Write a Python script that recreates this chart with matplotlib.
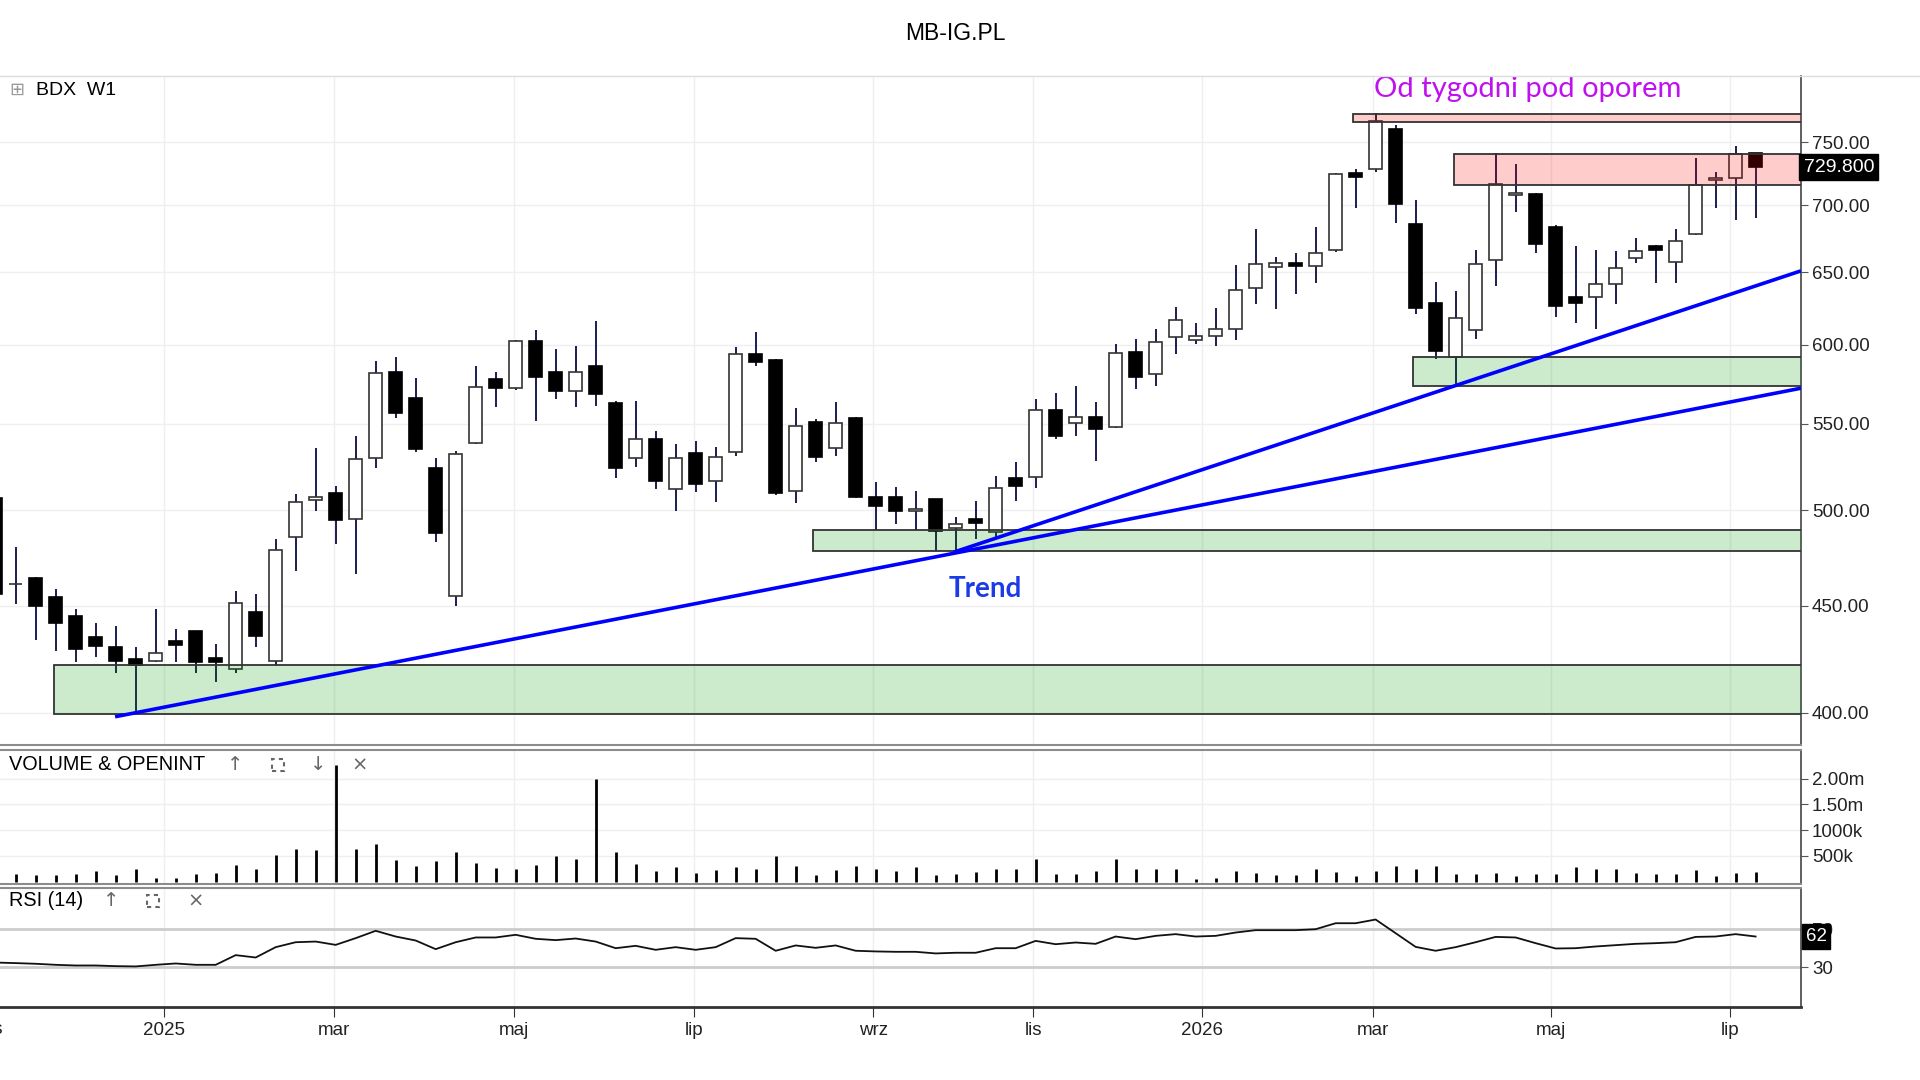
import numpy as np
import matplotlib.pyplot as plt
import matplotlib.transforms as mtransforms
from matplotlib.patches import Rectangle
from matplotlib.lines import Line2D
from matplotlib.ticker import NullLocator

plt.rcParams['font.family'] = ['Liberation Sans', 'DejaVu Sans']

# weekly candles, index 0 = first full candle on the left
weeks = np.arange(-1, 88)

opens = [507.0, 461.0, 464.0, 454.5, 445.1, 434.8, 430.2, 424.4, 423.5, 432.8,
         437.8, 424.9, 419.9, 447.1, 423.6, 485.3, 505.8, 509.8, 495.0, 529.8,
         582.4, 566.0, 524.0, 454.9, 538.3, 577.6, 571.9, 602.7, 582.4, 570.4,
         586.3, 562.9, 529.8, 540.8, 511.7, 532.7, 516.4, 533.0, 593.9, 590.0,
         510.7, 551.2, 535.3, 553.7, 507.5, 507.5, 499.4, 506.2, 490.2, 495.2,
         488.3, 518.3, 518.9, 558.4, 550.3, 554.3, 548.2, 595.5, 581.0, 605.4,
         603.2, 606.1, 610.3, 639.0, 653.9, 656.8, 654.6, 666.5, 724.8, 728.2,
         761.5, 685.4, 628.5, 592.2, 609.9, 659.2, 707.4, 708.4, 682.9, 632.6,
         632.6, 641.6, 660.4, 669.2, 657.5, 677.7, 719.3, 721.3, 741.4]
highs = [509.0, 480.0, 464.5, 458.4, 448.4, 441.4, 440.3, 429.9, 448.3, 438.5,
         437.8, 431.3, 457.6, 455.8, 484.3, 508.9, 535.3, 513.7, 542.8, 589.6,
         592.2, 578.2, 529.5, 533.9, 586.3, 582.0, 603.5, 610.0, 597.0, 599.4,
         616.0, 564.0, 564.1, 545.8, 537.8, 539.8, 535.9, 598.3, 608.7, 591.0,
         559.5, 552.9, 563.5, 554.3, 515.6, 512.8, 510.9, 506.5, 496.1, 505.3,
         519.4, 527.1, 565.0, 568.8, 573.6, 563.5, 600.3, 603.6, 610.9, 625.7,
         614.8, 624.6, 655.1, 681.6, 661.1, 663.6, 683.3, 725.0, 728.0, 774.8,
         764.9, 704.2, 643.2, 636.8, 666.5, 741.4, 732.6, 709.0, 685.0, 669.2,
         666.5, 665.4, 674.7, 669.5, 681.4, 737.3, 726.2, 746.8, 741.5]
lows = [454.0, 451.0, 433.4, 428.2, 422.8, 425.5, 417.7, 399.3, 423.0, 422.8,
        417.7, 413.6, 417.7, 429.9, 421.6, 467.6, 499.6, 481.6, 465.9, 524.0,
        553.3, 533.0, 483.0, 449.9, 538.0, 560.4, 571.0, 551.9, 565.0, 560.4,
        561.0, 518.3, 524.6, 511.7, 499.4, 510.0, 504.4, 530.8, 586.3, 508.5,
        504.2, 527.5, 530.8, 507.0, 489.2, 492.3, 489.2, 478.2, 478.2, 484.3,
        485.6, 505.3, 512.2, 540.6, 542.6, 528.1, 547.5, 571.3, 573.6, 593.7,
        600.5, 599.4, 603.2, 627.4, 623.9, 634.3, 642.5, 665.0, 697.7, 726.2,
        686.3, 620.7, 590.5, 574.0, 603.6, 640.4, 694.6, 664.0, 618.9, 614.8,
        610.3, 627.6, 656.8, 642.5, 642.5, 677.0, 697.7, 688.4, 690.4]
closes = [456.0, 461.0, 450.0, 441.4, 429.2, 430.5, 423.5, 421.6, 427.3, 431.1,
          422.8, 422.8, 451.4, 435.3, 478.4, 504.8, 507.5, 494.7, 528.9, 581.8,
          556.4, 534.7, 487.4, 532.0, 572.9, 571.9, 602.7, 579.3, 570.4, 582.4,
          568.1, 523.6, 540.8, 516.4, 529.8, 514.5, 530.4, 593.9, 588.5, 509.4,
          548.8, 530.4, 550.3, 507.5, 502.5, 499.4, 500.7, 488.9, 492.5, 492.8,
          512.6, 513.7, 558.4, 542.6, 554.3, 546.7, 594.8, 579.3, 602.1, 616.6,
          606.1, 610.5, 637.3, 655.8, 656.8, 654.6, 664.0, 724.2, 722.1, 767.7,
          701.1, 624.6, 596.1, 618.2, 655.8, 716.2, 709.4, 670.2, 626.2, 628.5,
          641.6, 653.2, 665.4, 666.5, 672.9, 715.4, 721.3, 740.8, 729.8]

# volume in thousands of shares
volume = [150, 149, 126, 126, 146, 204, 126, 253, 68, 68,
          146, 175, 321, 253, 516, 632, 613, 2270, 632, 730,
          418, 302, 399, 574, 370, 272, 253, 321, 496, 448,
          1995, 574, 341, 204, 282, 175, 234, 282, 253, 496,
          302, 126, 234, 302, 253, 204, 282, 126, 146, 195,
          243, 253, 438, 146, 146, 214, 438, 243, 243, 243,
          49, 68, 214, 175, 126, 126, 243, 195, 107, 214,
          302, 253, 302, 146, 146, 165, 107, 146, 146, 282,
          253, 253, 175, 146, 146, 224, 107, 165, 195]

rsi = [35.0, 34.4, 33.7, 32.6, 31.9, 31.9, 31.2, 30.9, 32.6, 34.0,
       32.6, 32.6, 42.8, 40.3, 51.2, 56.4, 57.1, 53.6, 60.7, 68.4,
       62.4, 58.2, 49.1, 56.4, 61.4, 61.4, 64.2, 60.0, 58.6, 60.3,
       57.1, 50.1, 52.6, 48.4, 51.2, 48.4, 51.2, 60.7, 60.0, 47.4,
       53.0, 50.5, 53.0, 47.4, 46.7, 46.3, 46.3, 44.6, 45.3, 45.3,
       50.1, 50.1, 57.8, 54.3, 56.1, 54.7, 62.4, 59.6, 63.1, 64.9,
       62.4, 63.1, 66.6, 69.1, 69.1, 69.1, 70.1, 76.4, 76.4, 80.3,
       65.9, 51.5, 47.4, 51.2, 56.4, 62.0, 61.4, 55.4, 49.8, 50.1,
       51.9, 53.3, 54.7, 55.4, 56.4, 62.0, 62.4, 64.9, 62.4]

# support / resistance zones: (start week, low, high)
red_zones = [(66.87, 767.1, 774.2), (71.9, 715.6, 740.2)]
green_zones = [(69.87, 573.6, 591.8), (39.87, 478.0, 489.2), (1.94, 399.3, 421.6)]

# trend lines: (week, price) endpoints
trend_lines = [((4.97, 398.2), (89.27, 572.0)),
               ((46.9, 477.4), (89.27, 651.0))]

month_pos = [7.42, 15.93, 24.93, 33.93, 42.87, 50.89, 59.34, 67.85, 76.79, 85.73]
month_lbl = ['2025', 'mar', 'maj', 'lip', 'wrz', 'lis', '2026', 'mar', 'maj', 'lip']

price_ticks = [400, 450, 500, 550, 600, 650, 700, 750]
vol_ticks = [500, 1000, 1500, 2000]
vol_lbl = ['500k', '1000k', '1.50m', '2.00m']

opens = np.array(opens)
highs = np.array(highs)
lows = np.array(lows)
closes = np.array(closes)
volume = np.array(volume) * 1000

W, H = 1920, 1080
XMIN, XMAX = -0.785, 89.27


def box(x0, y0, x1, y1):
    return [x0 / W, 1 - y1 / H, (x1 - x0) / W, (y1 - y0) / H]


fig = plt.figure(figsize=(19.2, 10.8), dpi=100, facecolor='white')
ax = fig.add_axes(box(0, 76, 1801, 744.5))
axv = fig.add_axes(box(0, 749.5, 1801, 884))
axr = fig.add_axes(box(0, 888, 1801, 1006.5))

for a in (ax, axv, axr):
    a.set_xlim(XMIN, XMAX)
    a.set_xticks(month_pos)
    a.grid(True, color='#efefef', lw=1)
    a.set_axisbelow(True)
    a.spines['left'].set_visible(False)
    a.spines['right'].set_color('#444444')
    a.spines['right'].set_linewidth(1.2)
    a.spines['top'].set_color('#8c8c8c')
    a.spines['bottom'].set_color('#8c8c8c')
    a.spines['top'].set_linewidth(1.5)
    a.spines['bottom'].set_linewidth(1.5)
    a.yaxis.tick_right()
    a.tick_params(axis='y', direction='out', length=5, color='#555555',
                  labelsize=13.5, pad=3, labelcolor='#222222')
ax.spines['top'].set_visible(False)
for a in (ax, axv):
    a.tick_params(axis='x', length=0, labelbottom=False)

# main candles
ax.set_yscale('log')
ax.set_ylim(386.2, 807.0)
ax.yaxis.set_minor_locator(NullLocator())
ax.set_yticks(price_ticks)
ax.set_yticklabels(['%.2f' % p for p in price_ticks])

up = closes >= opens
body_lo = np.minimum(opens, closes)
body_h = np.abs(closes - opens)
ax.vlines(weeks, lows, highs, color='#1c1c50', lw=1.4, zorder=2)
ax.bar(weeks[up], body_h[up], bottom=body_lo[up], width=0.64, color='white',
       edgecolor='#333333', linewidth=1.2, zorder=3)
ax.bar(weeks[~up], body_h[~up], bottom=body_lo[~up], width=0.64, color='black',
       edgecolor='black', linewidth=1.2, zorder=3)

for x0, lo, hi in red_zones:
    ax.add_patch(Rectangle((x0, lo), XMAX + 1 - x0, hi - lo, facecolor=(1, 0, 0, 0.2),
                           edgecolor='#333333', lw=1.3, zorder=4))
for x0, lo, hi in green_zones:
    ax.add_patch(Rectangle((x0, lo), XMAX + 1 - x0, hi - lo, facecolor=(0, 0.6, 0, 0.2),
                           edgecolor='#333333', lw=1.3, zorder=4))

for (xa, ya), (xb, yb) in trend_lines:
    ax.plot([xa, xb], [ya, yb], color='#0000ff', lw=2.6, zorder=5, solid_capstyle='butt')

ax.text(48.5, 458.4, 'Trend', ha='center', va='center', color='#1a3be6',
        fontsize=20, fontweight='bold', family=['Lato', 'DejaVu Sans'], zorder=6)
ax.text(75.6, 795.5, 'Od tygodni pod oporem', ha='center', va='center', color='#c010f0',
        fontsize=21, family=['Lato', 'DejaVu Sans'], zorder=6)

last = closes[-1]
tr = mtransforms.blended_transform_factory(ax.transAxes, ax.transData)
ax.text(1.0015, last, '729.800', transform=tr, ha='left', va='center', color='white',
        fontsize=14, zorder=10, clip_on=False,
        bbox=dict(boxstyle='square,pad=0.22', fc='black', ec='black'))

# volume panel
axv.vlines(weeks, 0, volume, color='black', lw=2.0)
axv.set_ylim(-47000, 2570000)
axv.set_yticks([v * 1000 for v in vol_ticks])
axv.set_yticklabels(vol_lbl)

# rsi panel
axr.plot(weeks, rsi, color='#111111', lw=1.3, zorder=3)
axr.set_ylim(-11.3, 113.5)
axr.set_yticks([30, 70])
axr.set_yticklabels(['30', '70'])
axr.grid(False, axis='y')
axr.axhline(70, color='#cccccc', lw=2, zorder=1)
axr.axhline(30, color='#cccccc', lw=2, zorder=1)
axr.spines['bottom'].set_color('#333333')
axr.spines['bottom'].set_linewidth(2)
axr.set_xticklabels(month_lbl)
axr.tick_params(axis='x', direction='out', length=7, color='#333333',
                labelsize=13.5, pad=4, labelcolor='#222222')
axr.text(-1.05, -0.19, 'lis', transform=mtransforms.blended_transform_factory(axr.transData, axr.transAxes),
         ha='center', va='center', fontsize=13.5, color='#222222', clip_on=False)
trr = mtransforms.blended_transform_factory(axr.transAxes, axr.transData)
axr.text(1.0025, rsi[-1], '62', transform=trr, ha='left', va='center', color='white',
         fontsize=13.5, zorder=10, clip_on=False,
         bbox=dict(boxstyle='square,pad=0.2', fc='black', ec='black'))

# header and panel captions
fig.add_artist(Line2D([0, 1], [1 - 76 / H] * 2, color='#dddddd', lw=1))
fig.text(955 / W, 1 - 34 / H, 'MB-IG.PL', ha='center', va='center', fontsize=16.5)
fig.text(17 / W, 1 - 90.6 / H, '⊞', ha='center', va='center', fontsize=13, color='#999999')
fig.text(35.5 / W, 1 - 90.6 / H, 'BDX  W1', ha='left', va='center', fontsize=14)

fig.text(8.6 / W, 1 - 765 / H, 'VOLUME & OPENINT', ha='left', va='center', fontsize=14.3)
fig.text(8.6 / W, 1 - 901 / H, 'RSI (14)', ha='left', va='center', fontsize=14.3)
for x, s, y in [(235, '↑', 765), (318, '↓', 765), (360, '×', 765), (111, '↑', 901), (196, '×', 901)]:
    fig.text(x / W, 1 - y / H, s, ha='center', va='center', fontsize=14, color='#666666',
             family=['DejaVu Sans'])
for x, y in [(278, 765), (153, 901)]:
    fig.add_artist(Rectangle(((x - 6) / W, 1 - (y + 6) / H), 12 / W, 12 / H, fill=False,
                             ec='#666666', lw=1.5, ls=(0, (2, 2)), transform=fig.transFigure))

fig.savefig('out.png', dpi=100, facecolor='white')
